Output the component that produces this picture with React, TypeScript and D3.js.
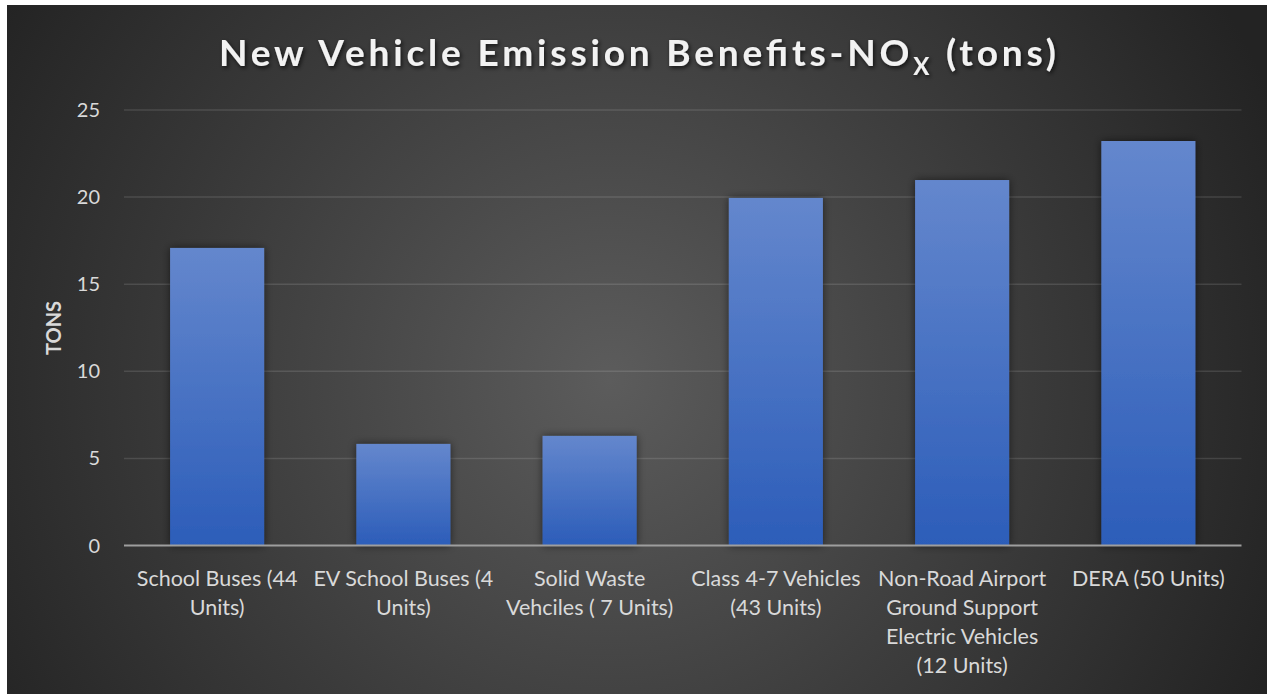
import React from "react";
import * as d3 from "d3";

const categories: string[][] = [
  ["School Buses (44", "Units)"],
  ["EV School Buses (4", "Units)"],
  ["Solid Waste", "Vehciles ( 7 Units)"],
  ["Class 4-7 Vehicles", "(43 Units)"],
  ["Non-Road Airport", "Ground Support", "Electric Vehicles", "(12 Units)"],
  ["DERA (50 Units)"],
];
const values: number[] = [17.08, 5.83, 6.29, 19.95, 20.98, 23.22];
const yTicks: number[] = [0, 5, 10, 15, 20, 25];

const W = 1268;
const H = 694;
const FONT = "Lato, 'Open Sans', sans-serif";

export default function App() {
  const keys = categories.map((c) => c.join(" "));
  const x = d3
    .scaleBand<string>()
    .domain(keys)
    .range([124, 1241.5])
    .paddingInner(0.495)
    .paddingOuter(0.2475);
  const y = d3.scaleLinear().domain([0, 25]).range([545.5, 110]);

  return (
    <svg
      width={W}
      height={H}
      style={{ position: "absolute", left: 0, top: 0, display: "block" }}
    >
      <defs>
        <radialGradient
          id="bg"
          gradientUnits="userSpaceOnUse"
          cx={610}
          cy={380}
          r={720}
        >
          <stop offset="0" stopColor="#5c5c5c" />
          <stop offset="0.55" stopColor="#3c3c3c" />
          <stop offset="1" stopColor="#232323" />
        </radialGradient>
        <linearGradient id="bar" x1="0" y1="0" x2="0" y2="1">
          <stop offset="0" stopColor="#6487cd" />
          <stop offset="1" stopColor="#2c5db9" />
        </linearGradient>
        <filter id="shadow" x="-30%" y="-10%" width="160%" height="120%">
          <feDropShadow dx="0" dy="0" stdDeviation="4" floodColor="#000" floodOpacity="0.55" />
        </filter>
        <filter id="tshadow" x="-5%" y="-30%" width="110%" height="160%">
          <feDropShadow dx="1.5" dy="2" stdDeviation="2" floodColor="#000" floodOpacity="0.7" />
        </filter>
      </defs>
      <rect x={0} y={0} width={W} height={H} fill="#ffffff" />
      <rect x={7} y={5} width={1260} height={689} fill="url(#bg)" />

      {/* Title */}
      <text
        x={637.5}
        y={66}
        textAnchor="middle"
        fontFamily={FONT}
        fontWeight={700}
        fontSize={37}
        fill="#f2f2f2"
        textLength={837}
        lengthAdjust="spacing"
        filter="url(#tshadow)"
      >
        New Vehicle Emission Benefits-NO
        <tspan fontSize={24} dy={9}>X</tspan>
        <tspan dy={-9}> (tons)</tspan>
      </text>

      {/* Gridlines */}
      {yTicks
        .filter((t) => t > 0)
        .map((t) => (
          <line
            key={t}
            x1={124}
            x2={1241.5}
            y1={y(t)}
            y2={y(t)}
            stroke="#ffffff"
            strokeOpacity={0.12}
            strokeWidth={1.5}
          />
        ))}

      {/* Y tick labels */}
      {yTicks.map((t) => (
        <text
          key={t}
          x={100}
          y={y(t) + 7}
          textAnchor="end"
          fontFamily={FONT}
          fontSize={20}
          fill="#d9d9d9"
        >
          {t}
        </text>
      ))}

      {/* Y axis title */}
      <text
        transform={`translate(61,328) rotate(-90)`}
        textAnchor="middle"
        fontFamily={FONT}
        fontWeight={700}
        fontSize={20}
        fill="#d9d9d9"
      >
        TONS
      </text>

      {/* Bars */}
      {values.map((v, i) => (
        <rect
          key={keys[i]}
          x={x(keys[i])}
          y={y(v)}
          width={x.bandwidth()}
          height={y(0) - y(v)}
          fill="url(#bar)"
          filter="url(#shadow)"
        />
      ))}

      {/* Axis line */}
      <line x1={124} x2={1241.5} y1={y(0)} y2={y(0)} stroke="#9e9e9e" strokeWidth={2} />

      {/* X labels */}
      {categories.map((lines, i) => (
        <text
          key={keys[i]}
          textAnchor="middle"
          fontFamily={FONT}
          fontSize={21.5}
          fill="#d9d9d9"
        >
          {lines.map((l, j) => (
            <tspan key={j} x={(x(keys[i]) as number) + x.bandwidth() / 2} y={586 + j * 29}>
              {l}
            </tspan>
          ))}
        </text>
      ))}
    </svg>
  );
}
